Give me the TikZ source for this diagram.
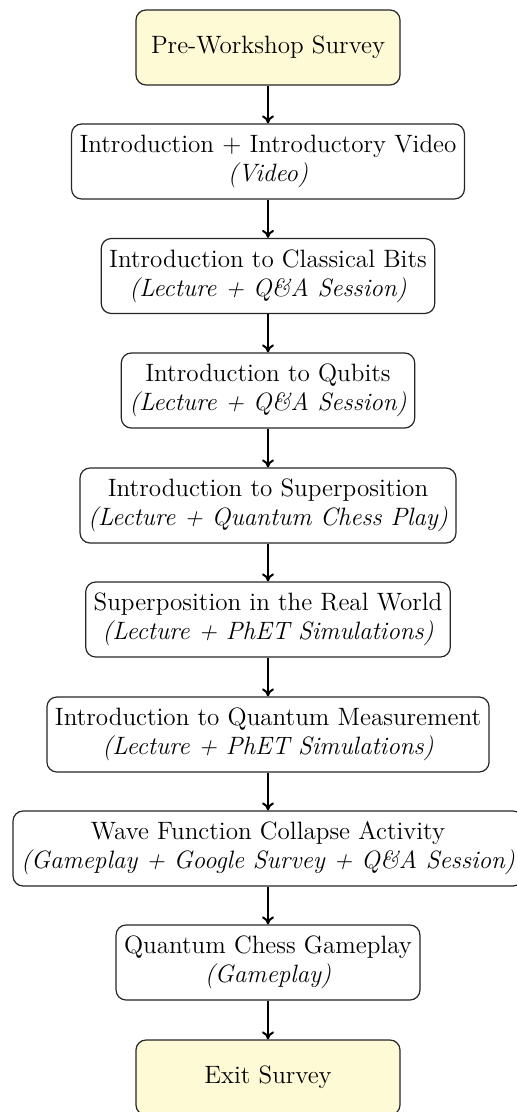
\documentclass[tikz,border=0pt]{standalone}
\usetikzlibrary{arrows.meta}
\definecolor{surveyfill}{RGB}{255,250,214}
\tikzset{
  stage/.style={draw=black!85, line width=0.6pt, rounded corners=5pt, align=center,
    minimum height=37.5pt, minimum width=132pt, inner xsep=4pt, inner ysep=4pt,
    font=\fontsize{12.55}{14.5}\selectfont, fill=white},
  survey/.style={stage, fill=surveyfill},
  flow/.style={-{To[length=4pt,width=6pt]}, line width=1pt},
}
\begin{document}
\begin{tikzpicture}[x=0.5pt, y=-0.5pt]
\useasboundingbox (0,0) rectangle (516,1112);
\node[survey] (s0) at (268,47.5) {Pre-Workshop Survey};
\node[stage] (s1) at (268,161.5) {Introduction + Introductory Video\\\textit{(Video)}};
\node[stage] (s2) at (268,276) {Introduction to Classical Bits\\\textit{(Lecture + Q\&A Session)}};
\node[stage] (s3) at (268,390.5) {Introduction to Qubits\\\textit{(Lecture + Q\&A Session)}};
\node[stage] (s4) at (268,505.5) {Introduction to Superposition\\\textit{(Lecture + Quantum Chess Play)}};
\node[stage] (s5) at (268,619.5) {Superposition in the Real World\\\textit{(Lecture + PhET Simulations)}};
\node[stage] (s6) at (268,734.5) {Introduction to Quantum Measurement\\\textit{(Lecture + PhET Simulations)}};
\node[stage] (s7) at (268,848.5) {Wave Function Collapse Activity\\\textit{(Gameplay + Google Survey + Q\&A Session)}};
\node[stage] (s8) at (268,962.5) {Quantum Chess Gameplay\\\textit{(Gameplay)}};
\node[survey] (s9) at (268,1077.5) {Exit Survey};
\foreach \a/\b in {s0/s1,s1/s2,s2/s3,s3/s4,s4/s5,s5/s6,s6/s7,s7/s8,s8/s9}
  \draw[flow] (\a) -- (\b);
\end{tikzpicture}
\end{document}
